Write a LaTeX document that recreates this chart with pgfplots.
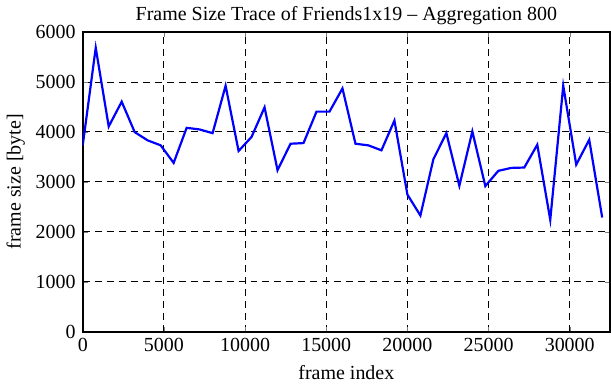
\documentclass[border=0pt]{standalone}
\usepackage{pgfplots}
\pgfplotsset{compat=1.18}
\usepackage{fontspec}
\setmainfont{Liberation Serif}
\begin{document}
\begin{tikzpicture}
\begin{axis}[
  scale only axis,
  width=264pt, height=150pt,
  xmin=0, xmax=32480, ymin=0, ymax=6000,
  xtick={0,5000,...,30000}, ytick={0,1000,...,6000},
  scaled x ticks=false, scaled y ticks=false,
  /pgf/number format/assume math mode=true,
  xticklabel style={/pgf/number format/set thousands separator={}},
  yticklabel style={/pgf/number format/set thousands separator={}},
  tick align=inside, major tick length=2.5pt,
  axis line style={line width=1pt},
  grid=major,
  major grid style={black, line width=0.5pt, dash pattern=on 3.5pt off 2.5pt},
  title={Frame Size Trace of Friends1x19 -- Aggregation 800},
  xlabel={frame index}, ylabel={frame size [byte]},
  font=\fontsize{10}{12}\selectfont,
  title style={yshift=-6pt},
  ylabel style={yshift=-1.5pt},
]
\addplot[blue, line width=1.1pt, mark=none] coordinates {
(0,3732) (800,5686) (1600,4109) (2400,4606) (3200,3996) (4000,3831) (4800,3732)
(5600,3380) (6400,4082) (7200,4050) (8000,3976) (8800,4924) (9600,3618) (10400,3900)
(11200,4493) (12000,3234) (12800,3764) (13600,3777) (14400,4407) (15200,4407)
(16000,4871) (16800,3764) (17600,3731) (18400,3632) (19200,4228) (20000,2745)
(20800,2326) (21600,3453) (22400,3976) (23200,2922) (24000,4010) (24800,2916)
(25600,3221) (26400,3280) (27200,3287) (28000,3744) (28800,2240) (29600,4924)
(30400,3346) (31200,3843) (32000,2286)
};
\end{axis}
\end{tikzpicture}
\end{document}
